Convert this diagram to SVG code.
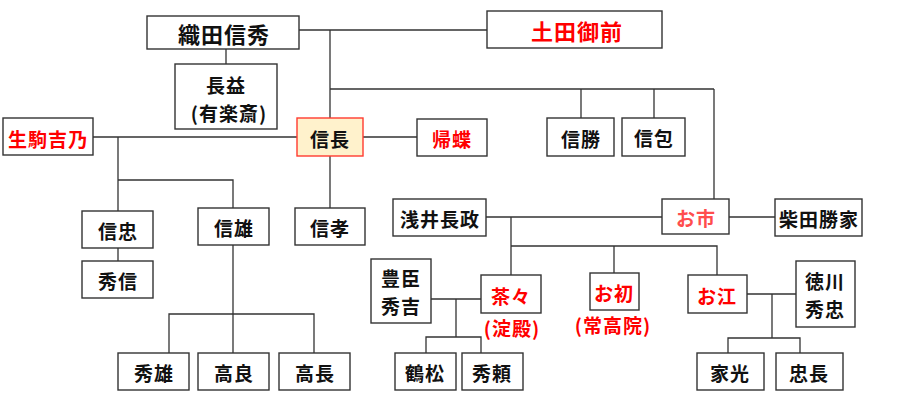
<svg xmlns="http://www.w3.org/2000/svg" width="900" height="400" viewBox="0 0 900 400">
<style>
.b{fill:#fff;stroke:#333;stroke-width:1.4}
.hl{fill:#FFF2CC;stroke:#FF3B30;stroke-width:1.4}
text{font-family:"Noto Sans CJK JP","Noto Sans CJK SC",sans-serif;font-size:19px;font-weight:700;text-anchor:middle;dominant-baseline:central;fill:#111;letter-spacing:1px}
.big{font-size:22px}
.r{fill:#FF0000}
.p{fill:#FF4D4D}
#c path{fill:none;stroke:#333;stroke-width:1.3}
</style>
<rect width="900" height="400" fill="#fff"/>
<g id="c">
<path d="M299 30H487M226 49V64M330 30V118M330 89H714M581 89V118M654 89V118M714 89V199"/>
<path d="M93 137H297M363 137H417M118 137V211M118 180H233V208M118 248V261M330 156V208"/>
<path d="M233 245V353M169 353V314H314V353"/>
<path d="M486 217H662M729 217H775M511 217V275M511 246H717V275M614 246V273"/>
<path d="M431 299H481M456 299V337M426 353V337H481V353"/>
<path d="M747 294H796M772 294V338M728 353V338H800V353"/>
</g>
<g id="n-nobuhide"><rect class="b" x="147" y="16" width="152" height="33"/><text class="big" x="224" y="33">織田信秀</text></g>
<g id="n-dota"><rect class="b" x="487" y="11" width="175" height="37"/><text class="big r" x="577" y="30">土田御前</text></g>
<g id="n-nagamasu"><rect class="b" x="175" y="64" width="102" height="65"/><text x="226" y="84">長益</text><text x="229" y="112" letter-spacing="2">(有楽斎)</text></g>
<g id="n-ikoma"><rect class="b" x="3" y="118" width="90" height="37"/><text class="r" x="48" y="138">生駒吉乃</text></g>
<g id="n-nobunaga"><rect class="hl" x="297" y="118" width="66" height="38"/><text x="330" y="138">信長</text></g>
<g id="n-kicho"><rect class="b" x="417" y="119" width="70" height="37"/><text class="r" x="452" y="138">帰蝶</text></g>
<g id="n-nobukatsu"><rect class="b" x="547" y="118" width="67" height="38"/><text x="581" y="138">信勝</text></g>
<g id="n-nobukane"><rect class="b" x="622" y="118" width="63" height="38"/><text x="654" y="137">信包</text></g>
<g id="n-nobutada"><rect class="b" x="82" y="211" width="71" height="37"/><text x="118" y="230">信忠</text></g>
<g id="n-hidenobu"><rect class="b" x="82" y="261" width="71" height="37"/><text x="118" y="280">秀信</text></g>
<g id="n-nobukatsu2"><rect class="b" x="198" y="208" width="71" height="37"/><text x="234" y="227">信雄</text></g>
<g id="n-nobutaka"><rect class="b" x="295" y="208" width="70" height="37"/><text x="330" y="227">信孝</text></g>
<g id="n-hidekatsu"><rect class="b" x="118" y="353" width="71" height="37"/><text x="154" y="372">秀雄</text></g>
<g id="n-takayoshi"><rect class="b" x="198" y="353" width="71" height="37"/><text x="234" y="372">高良</text></g>
<g id="n-takanaga"><rect class="b" x="279" y="353" width="71" height="37"/><text x="315" y="372">高長</text></g>
<g id="n-azai"><rect class="b" x="393" y="199" width="93" height="37"/><text x="440" y="218">浅井長政</text></g>
<g id="n-oichi"><rect class="b" x="662" y="199" width="67" height="35"/><text class="p" x="696" y="217">お市</text></g>
<g id="n-shibata"><rect class="b" x="775" y="199" width="87" height="37"/><text x="819" y="218">柴田勝家</text></g>
<g id="n-hideyoshi"><rect class="b" x="371" y="259" width="60" height="64"/><text x="401" y="277">豊臣</text><text x="401" y="305">秀吉</text></g>
<g id="n-chacha"><rect class="b" x="481" y="275" width="60" height="38"/><text class="r" x="511" y="295">茶々</text><text class="r" x="512" y="327">(淀殿)</text></g>
<g id="n-ohatsu"><rect class="b" x="590" y="273" width="49" height="37"/><text class="r" x="614" y="292">お初</text><text class="r" x="613" y="324">(常高院)</text></g>
<g id="n-go"><rect class="b" x="688" y="275" width="59" height="38"/><text class="r" x="717" y="295">お江</text></g>
<g id="n-hidetada"><rect class="b" x="796" y="261" width="59" height="66"/><text x="825" y="280">徳川</text><text x="825" y="308">秀忠</text></g>
<g id="n-tsurumatsu"><rect class="b" x="395" y="353" width="61" height="37"/><text x="425" y="372">鶴松</text></g>
<g id="n-hideyori"><rect class="b" x="462" y="353" width="61" height="37"/><text x="492" y="372">秀頼</text></g>
<g id="n-iemitsu"><rect class="b" x="697" y="353" width="67" height="37"/><text x="730" y="372">家光</text></g>
<g id="n-tadanaga"><rect class="b" x="776" y="353" width="67" height="37"/><text x="809" y="372">忠長</text></g>
</svg>
